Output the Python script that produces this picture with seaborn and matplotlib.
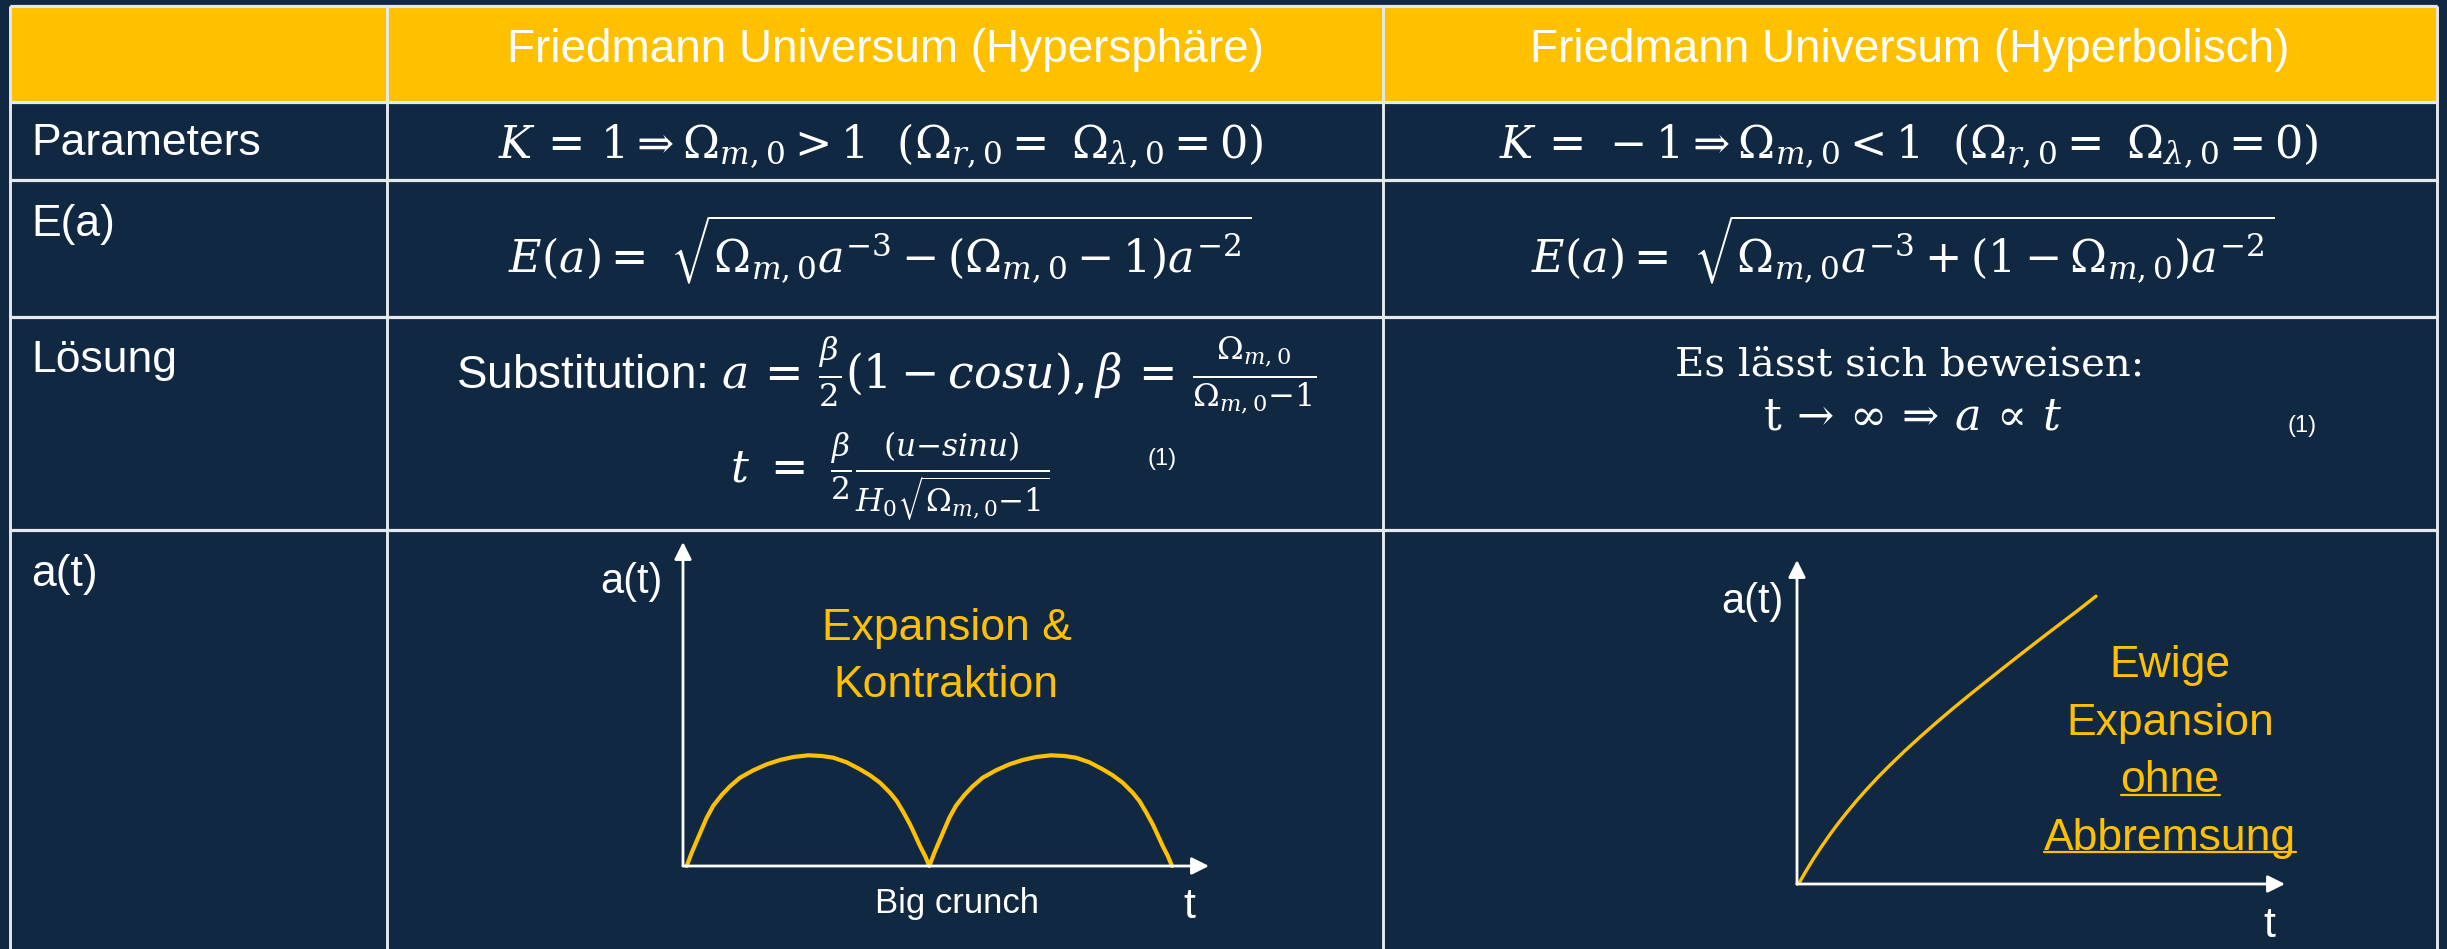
import numpy as np
import pandas as pd
import matplotlib
matplotlib.use("Agg")
import matplotlib.pyplot as plt
from matplotlib.patches import Rectangle
from matplotlib.lines import Line2D
import seaborn as sns

# ---------------- data ----------------
col_headers = ["Friedmann Universum (Hypersphäre)", "Friedmann Universum (Hyperbolisch)"]
row_labels = ["Parameters", "E(a)", "Lösung", "a(t)"]
param_formulas = [
    r"$K\, =\, 1 \Rightarrow \Omega_{m,0} > 1\ \ (\Omega_{r,0} =\ \Omega_{\lambda,0} = 0)$",
    r"$K\, =\, -1 \Rightarrow \Omega_{m,0} < 1\ \ (\Omega_{r,0} =\ \Omega_{\lambda,0} = 0)$",
]
e_formulas = [
    r"$E(a) =\ \sqrt{\Omega_{m,0}a^{-3} - (\Omega_{m,0} - 1)a^{-2}}$",
    r"$E(a) =\ \sqrt{\Omega_{m,0}a^{-3} + (1 - \Omega_{m,0})a^{-2}}$",
]
solution_closed = [
    r"Substitution: $a\, =\, \frac{\beta}{2}(1 - cosu),\beta\, =\, \frac{\Omega_{m,0}}{\Omega_{m,0}{-}1}$",
    r"$t\ =\ \frac{\beta}{2}\frac{(u{-}sinu)}{H_0\sqrt{\Omega_{m,0}{-}1}}$",
]
solution_open = ["Es lässt sich beweisen:",
                 r"$\mathrm{t}\,\rightarrow\,\infty\,\Rightarrow\,a\,\propto\,t$"]
footnote = "(1)"
closed_labels = ["Expansion &", "Kontraktion", "Big crunch"]
open_labels = ["Ewige", "Expansion", "ohne", "Abbremsung"]

# a(t) curves (arbitrary units)
closed_t = [0.37, 0.87, 1.37, 1.87, 2.37, 3.03, 3.87, 4.70, 5.70, 7.03, 8.37, 9.70, 11.03, 12.53,
            13.87, 15.03, 16.37, 17.70, 18.70, 19.70, 20.70, 21.37, 22.03, 22.70, 23.20, 23.70,
            24.20, 24.63,
            25.14, 25.64, 26.14, 26.64, 27.30, 28.14, 28.97, 29.97, 31.30, 32.64, 33.97, 35.30,
            36.80, 38.14, 39.30, 40.64, 41.97, 42.97, 43.97, 44.97, 45.64, 46.30, 46.97, 47.47,
            47.97, 48.47, 48.90]
closed_a = [0.00, 1.33, 2.50, 3.67, 4.83, 6.03, 7.10, 7.97, 8.83, 9.57, 10.17, 10.60, 10.90, 11.07,
            11.00, 10.83, 10.37, 9.67, 9.07, 8.33, 7.33, 6.50, 5.40, 4.17, 3.10, 2.00,
            1.03, 0.00,
            1.33, 2.50, 3.67, 4.83, 6.03, 7.10, 7.97, 8.83, 9.57, 10.17, 10.60, 10.90,
            11.07, 11.00, 10.83, 10.37, 9.67, 9.07, 8.33, 7.33, 6.50, 5.40, 4.17, 3.10,
            2.00, 1.03, 0.00]
open_t = [0.00, 0.23, 0.80, 1.63, 2.47, 3.30, 4.13, 4.97, 5.97, 6.97, 8.13, 9.30, 10.80, 12.30,
          13.97, 15.63, 17.30, 18.97, 20.63, 22.30, 24.13, 25.97, 27.97, 29.90]
open_a = [0.00, 0.13, 1.13, 2.50, 3.77, 4.96, 6.08, 7.14, 8.34, 9.47, 10.71, 11.89, 13.33, 14.70,
          16.17, 17.58, 18.95, 20.29, 21.61, 22.92, 24.34, 25.75, 27.27, 28.78]

# ---------------- style ----------------
NAVY = "#102842"
GOLD = "#FFC000"
GRID = "#E6E8EB"
sns.set_theme(style="white")
plt.rcParams["font.family"] = ["Liberation Sans", "DejaVu Sans"]
plt.rcParams["mathtext.fontset"] = "dejavuserif"

W, H = 2447, 949
col_x = [10, 387, 1383, 2437]
row_y = [6, 102, 180, 317, 530, 949]

fig = plt.figure(figsize=(W / 100, H / 100), dpi=100, facecolor=NAVY)
bg = fig.add_axes([0, 0, 1, 1])
bg.set_xlim(0, W)
bg.set_ylim(H, 0)
bg.axis("off")
bg.set_facecolor(NAVY)

# header band and grid
bg.add_patch(Rectangle((col_x[0], row_y[0]), col_x[-1] - col_x[0], row_y[1] - row_y[0],
                       color=GOLD, zorder=1))
for yy in row_y[:-1]:
    bg.plot([col_x[0], col_x[-1]], [yy, yy], color=GRID, lw=2.3, zorder=3, solid_capstyle="butt")
for xx in col_x:
    bg.plot([xx, xx], [row_y[0], H], color=GRID, lw=2.1, zorder=3, solid_capstyle="butt")

col_centers = [(col_x[1] + col_x[2]) / 2, (col_x[2] + col_x[3]) / 2]
FS = 32
MS = 32
WHITE = "white"

# headers
for cx, txt in zip(col_centers, col_headers):
    bg.text(cx, 62, txt, color=WHITE, fontsize=33, ha="center", va="baseline", zorder=4)

# row labels
for yy, txt in zip([155, 236, 372, 586], row_labels):
    bg.text(31, yy, txt, color=WHITE, fontsize=FS, ha="left", va="baseline", zorder=4)

# parameter row
bg.text(881, 157, param_formulas[0], color=WHITE, fontsize=MS, ha="center", va="baseline")
bg.text(1909, 157, param_formulas[1], color=WHITE, fontsize=MS, ha="center", va="baseline")
# E(a) row
bg.text(880, 273, e_formulas[0], color=WHITE, fontsize=MS, ha="center", va="baseline")
bg.text(1903, 273, e_formulas[1], color=WHITE, fontsize=MS, ha="center", va="baseline")
# Lösung row
bg.text(886, 388, solution_closed[0], color=WHITE, fontsize=33, ha="center", va="baseline")
bg.text(890, 482, solution_closed[1], color=WHITE, fontsize=MS, ha="center", va="baseline")
bg.text(1162, 465, footnote, color=WHITE, fontsize=17, ha="center", va="baseline")
bg.text(1910, 375, solution_open[0], color=WHITE, fontsize=29, ha="center", va="baseline",
        family="DejaVu Serif")
bg.text(1912, 430, solution_open[1], color=WHITE, fontsize=32, ha="center", va="baseline")
bg.text(2302, 432, footnote, color=WHITE, fontsize=17, ha="center", va="baseline")


def panel(origin, xtip, ytip, xmax, ymax):
    ox, oy = origin
    ax = fig.add_axes([ox / W, 1 - oy / H, (xtip - ox) / W, (oy - ytip) / H])
    ax.set_xlim(0, xmax)
    ax.set_ylim(0, ymax)
    ax.axis("off")
    ax.patch.set_alpha(0)
    arrow = dict(arrowstyle="-|>", color=WHITE, lw=2.0, mutation_scale=26,
                 shrinkA=0, shrinkB=0)
    ax.annotate("", xy=(1, 0), xytext=(0, 0), xycoords="axes fraction", arrowprops=arrow)
    ax.annotate("", xy=(0, 1), xytext=(0, 0), xycoords="axes fraction", arrowprops=arrow)
    return ax


# closed universe panel
ax1 = panel((683, 866), 1209, 542, 52.6, 32.4)
df1 = pd.DataFrame({"t": closed_t, "a": closed_a})
sns.lineplot(data=df1, x="t", y="a", ax=ax1, color=GOLD, lw=3.0, sort=False, estimator=None)
for ln in ax1.lines:
    ln.set_solid_joinstyle("round")
    ln.set_clip_on(False)

bg.text(631, 593, "a(t)", color=WHITE, fontsize=30, ha="center", va="baseline")
bg.text(947, 640, closed_labels[0], color=GOLD, fontsize=FS, ha="center", va="baseline")
bg.text(946, 697, closed_labels[1], color=GOLD, fontsize=FS, ha="center", va="baseline")
bg.text(957, 913, closed_labels[2], color=WHITE, fontsize=25, ha="center", va="baseline")
bg.text(1189, 918, "t", color=WHITE, fontsize=31, ha="center", va="baseline")

# open universe panel
ax2 = panel((1797, 884), 2285, 560, 48.8, 32.4)
df2 = pd.DataFrame({"t": open_t, "a": open_a})
sns.lineplot(data=df2, x="t", y="a", ax=ax2, color=GOLD, lw=2.4, sort=False, estimator=None)
for ln in ax2.lines:
    ln.set_solid_joinstyle("round")
    ln.set_clip_on(False)

bg.text(1752, 613, "a(t)", color=WHITE, fontsize=30, ha="center", va="baseline")
bg.text(2269, 937, "t", color=WHITE, fontsize=31, ha="center", va="baseline")
open_texts = []
for yy, txt in zip([677, 735, 792, 850], open_labels):
    open_texts.append(bg.text(2170, yy, txt, color=GOLD, fontsize=FS, ha="center", va="baseline"))

# underline "ohne" and "Abbremsung"
fig.canvas.draw()
renderer = fig.canvas.get_renderer()
for tobj, uy in zip(open_texts[2:], [795, 852]):
    bb = tobj.get_window_extent(renderer)
    x0 = bg.transData.inverted().transform((bb.x0, 0))[0]
    x1 = bg.transData.inverted().transform((bb.x1, 0))[0]
    bg.add_line(Line2D([x0, x1], [uy, uy], color=GOLD, lw=1.6))

fig.savefig("out.png", dpi=100, facecolor=NAVY)
